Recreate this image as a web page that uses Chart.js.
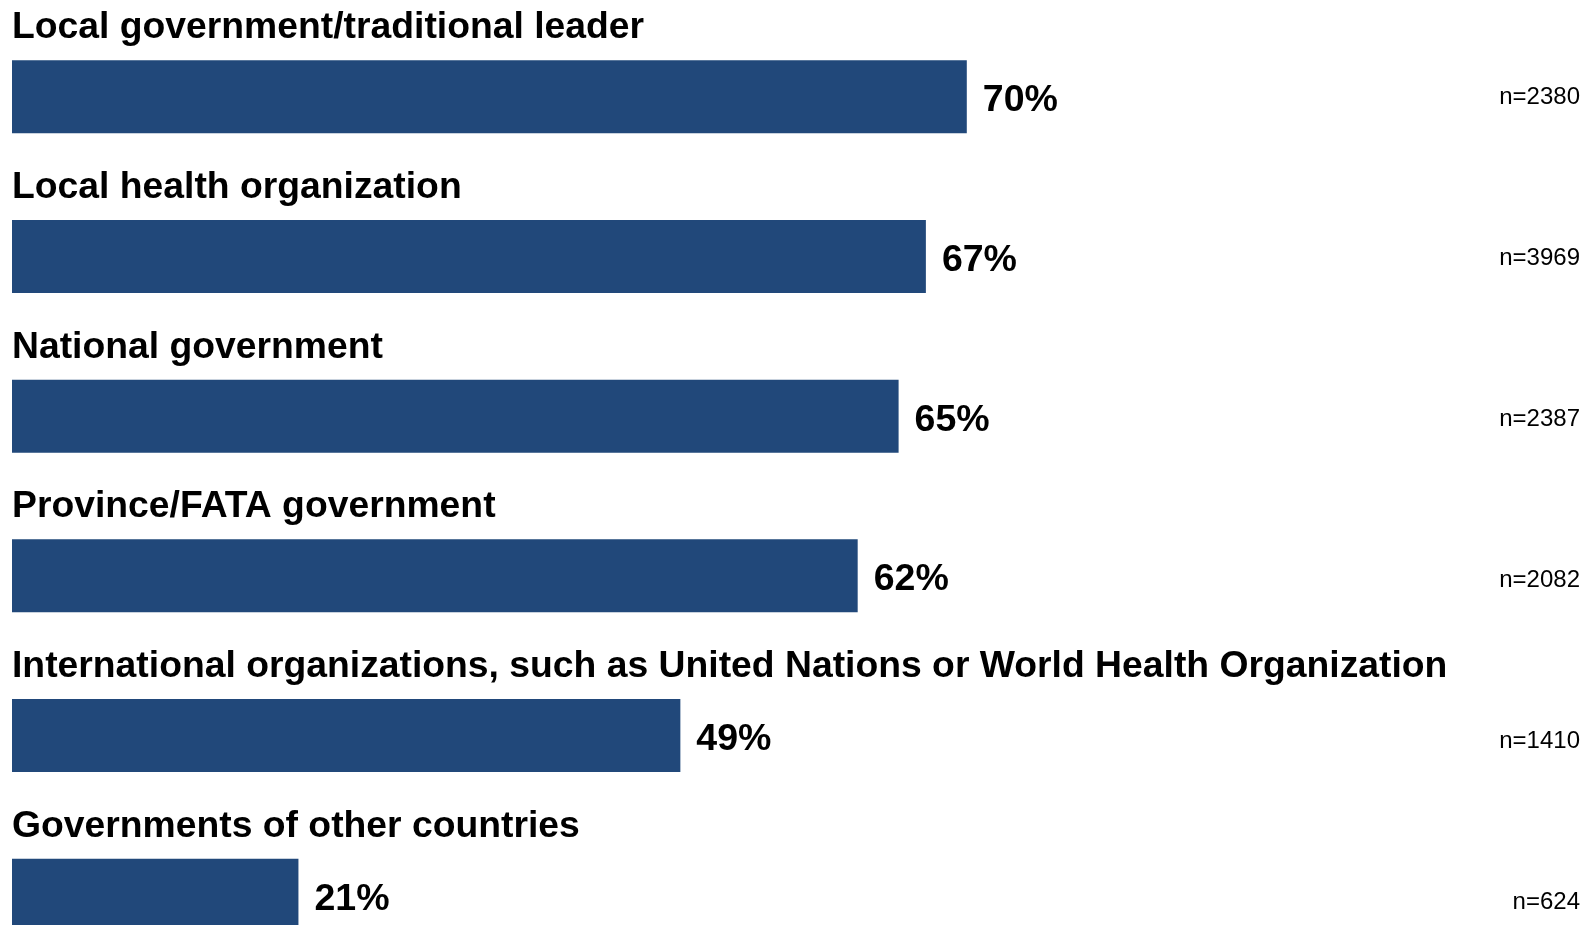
<!DOCTYPE html>
<html>
<head>
<meta charset="utf-8">
<script src="https://cdn.jsdelivr.net/npm/chart.js@4/dist/chart.umd.min.js"></script>
<style>
  html, body { margin: 0; padding: 0; background: #fff; overflow: hidden; }
  #wrap { width: 1585px; height: 925px; overflow: hidden; }
</style>
</head>
<body>
<div id="wrap">
  <canvas id="myCanvas" width="1585" height="975"></canvas>
</div>
<script>
var categories = [
  "Local government/traditional leader",
  "Local health organization",
  "National government",
  "Province/FATA government",
  "International organizations, such as United Nations or World Health Organization",
  "Governments of other countries"
];
var values = [70, 67, 65, 62, 49, 21];
var sampleSizes = ["n=2380", "n=3969", "n=2387", "n=2082", "n=1410", "n=624"];

var barColor = "#21487a";
var fontFamily = "'Liberation Sans', Arial, Helvetica, sans-serif";

// draws the category title above each bar, the % after it and the n at the right
var barText = {
  id: "barText",
  afterDatasetsDraw: function (chart) {
    var ctx = chart.ctx;
    var meta = chart.getDatasetMeta(0);
    ctx.save();
    for (var i = 0; i < meta.data.length; i++) {
      var bar = meta.data[i].getProps(["x", "y", "base", "height"], true);
      var top = bar.y - bar.height / 2;

      ctx.fillStyle = "#000";
      ctx.font = "bold 37.3px " + fontFamily;
      ctx.textAlign = "left";
      ctx.textBaseline = "alphabetic";
      ctx.fillText(categories[i], 12, top - 22);

      ctx.font = "bold 37.5px " + fontFamily;
      ctx.textBaseline = "middle";
      ctx.fillText(values[i] + "%", bar.x + 16, bar.y + 4);

      // the n labels sit a little lower on each row
      ctx.font = "24px " + fontFamily;
      ctx.textAlign = "right";
      ctx.fillText(sampleSizes[i], 1580, bar.y + 1 + i * 1.2);
    }
    ctx.restore();
  }
};

let myChart = document.getElementById("myCanvas").getContext('2d');

let massPopChart = new Chart(myChart, {
  type: 'bar',
  data: {
    labels: categories,
    datasets: [{
      data: values,
      backgroundColor: barColor,
      borderWidth: 0,
      barPercentage: 0.457,
      categoryPercentage: 1
    }]
  },
  options: {
    indexAxis: 'y',
    responsive: false,
    animation: false,
    devicePixelRatio: 1,
    layout: { padding: { top: 17, bottom: 0, left: 12, right: 209 } },
    scales: {
      x: { display: false, min: 0, max: 100 },
      y: { display: false }
    },
    plugins: {
      legend: { display: false },
      tooltip: { enabled: false }
    }
  },
  plugins: [barText]
});
</script>
</body>
</html>
